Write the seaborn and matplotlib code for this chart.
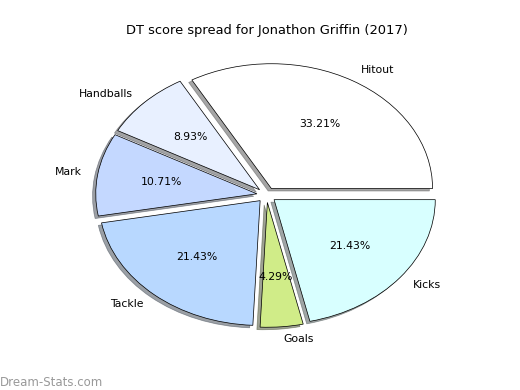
import matplotlib
matplotlib.use("Agg")
import matplotlib.pyplot as plt
import seaborn as sns

# DT score components for the player
labels = ["Hitout", "Handballs", "Mark", "Tackle", "Goals", "Kicks"]
shares = [33.21, 8.93, 10.71, 21.43, 4.29, 21.43]
colours = ["#ffffff", "#e8f0ff", "#c4d8ff", "#b8d8ff", "#d0ec88", "#d8ffff"]
title = "DT score spread for Jonathon Griffin (2017)"

sns.set_style("white")
plt.rcParams["font.family"] = ["DejaVu Sans"]
plt.rcParams["font.size"] = 12
plt.rcParams["text.color"] = "black"

fig = plt.figure(figsize=(8, 6), dpi=65)
ax = fig.add_axes([0.125, 0.1, 0.775, 0.8])

ax.pie(shares, labels=labels, colors=colours, autopct="%1.2f%%",
       explode=[0.06] * len(shares),
       shadow={"ox": -0.022, "oy": -0.022}, startangle=0,
       textprops={"color": "black"},
       wedgeprops={"edgecolor": "black", "linewidth": 0.8})
ax.set_aspect("auto")
ax.set_xlim(-1.25, 1.25)
ax.set_ylim(-1.25, 1.25)
ax.set_title(title, fontsize=14.4, color="black")

fig.text(0.0, 0.01, "Dream-Stats.com", color="#999999", fontsize=13)

fig.savefig("out.png", dpi=65)
